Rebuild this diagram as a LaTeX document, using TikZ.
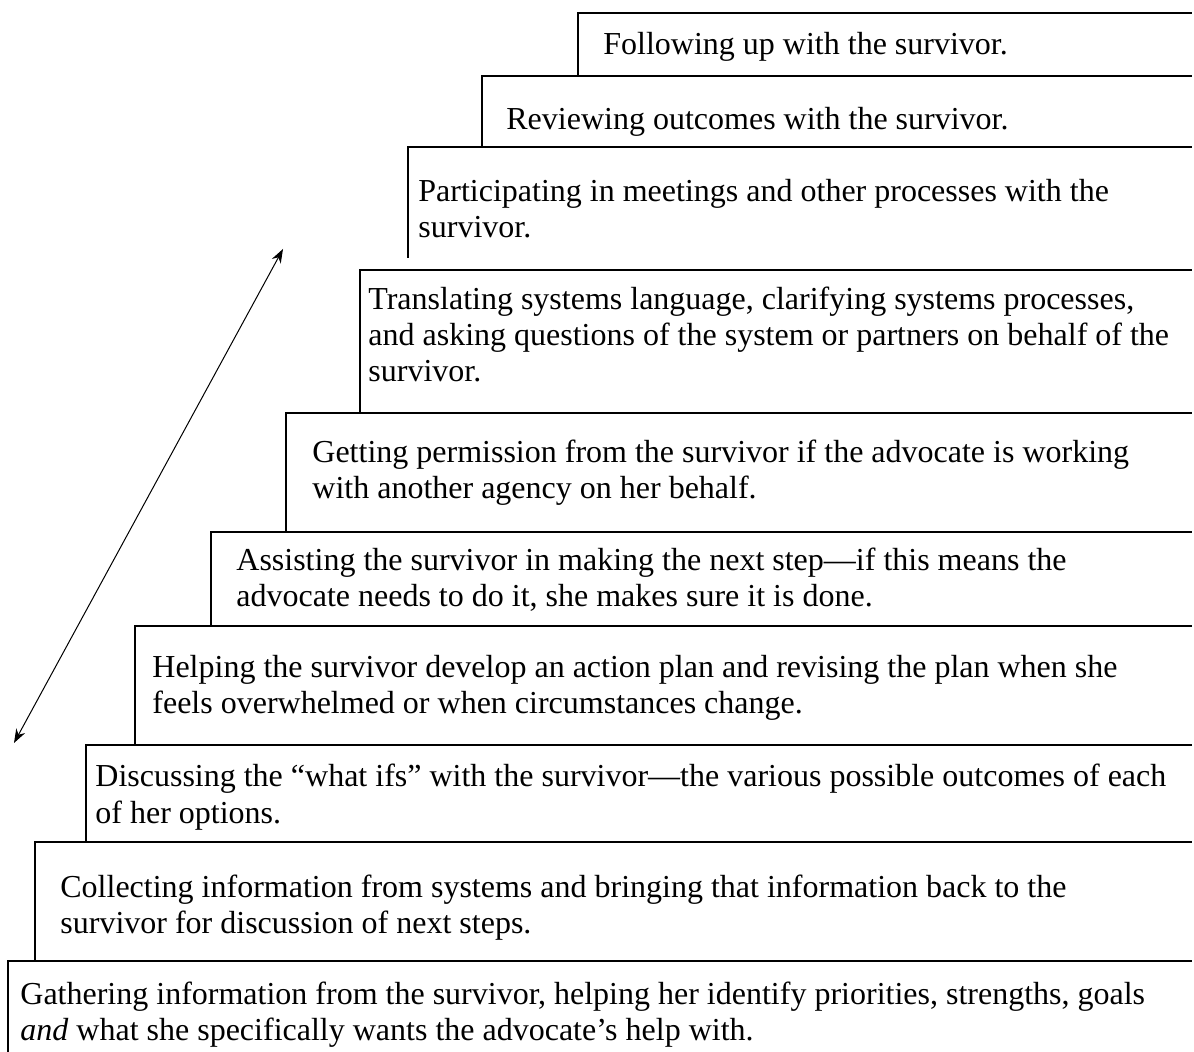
\documentclass[tikz,border=0pt]{standalone}
\usepackage{fontspec}
\setmainfont{Liberation Serif}
\usepackage{tikz}
\usetikzlibrary{arrows.meta}
\tikzset{
  steptext/.style={anchor=base west, align=left, inner sep=0pt, font=\fontsize{16}{18}\selectfont},
  stepline/.style={line width=0.9pt},
}

\begin{document}
\begin{tikzpicture}[x=0.5pt, y=-0.5pt]
\useasboundingbox (0,0) rectangle (1194,1052);

% stufen: linke kante / oben / unten
\foreach \x/\t/\b in {578/13/76, 482/76/147, 408/147/258, 360/270/413, 286/413/532,
                      211/532/626, 135/626/745, 86/745/842, 35/842/961, 8/961/1052}{
  \draw[stepline] (\x,\b) -- (\x,\t) -- (1192,\t);
}

% texte (position = grundlinie der letzten zeile)
\node[steptext] (s1) at (603,55) {Following up with the survivor.};
\node[steptext] (s2) at (506,130) {Reviewing outcomes with the survivor.};
\node[steptext] (s3) at (418,238) {Participating in meetings and other processes with the\\survivor.};
\node[steptext] (s4) at (368,382) {Translating systems language, clarifying systems processes,\\and asking questions of the system or partners on behalf of the\\survivor.};
\node[steptext] (s5) at (312,499) {Getting permission from the survivor if the advocate is working\\with another agency on her behalf.};
\node[steptext] (s6) at (236,607) {Assisting the survivor in making the next step—if this means the\\advocate needs to do it, she makes sure it is done.};
\node[steptext] (s7) at (152,714) {Helping the survivor develop an action plan and revising the plan when she\\feels overwhelmed or when circumstances change.};
\node[steptext] (s8) at (95,823) {Discussing the “what ifs” with the survivor—the various possible outcomes of each\\of her options.};
\node[steptext] (s9) at (60,933) {Collecting information from systems and bringing that information back to the\\survivor for discussion of next steps.};
\node[steptext] (s10) at (20,1040) {Gathering information from the survivor, helping her identify priorities, strengths, goals\\\emph{and} what she specifically wants the advocate’s help with.};

% doppelpfeil
\coordinate (arrtop) at (283,249);
\coordinate (arrbot) at (14,743);
\draw[line width=0.5pt, {Stealth[length=7pt,width=5pt]}-{Stealth[length=7pt,width=5pt]}] (arrbot) -- (arrtop);

\end{tikzpicture}
\end{document}
